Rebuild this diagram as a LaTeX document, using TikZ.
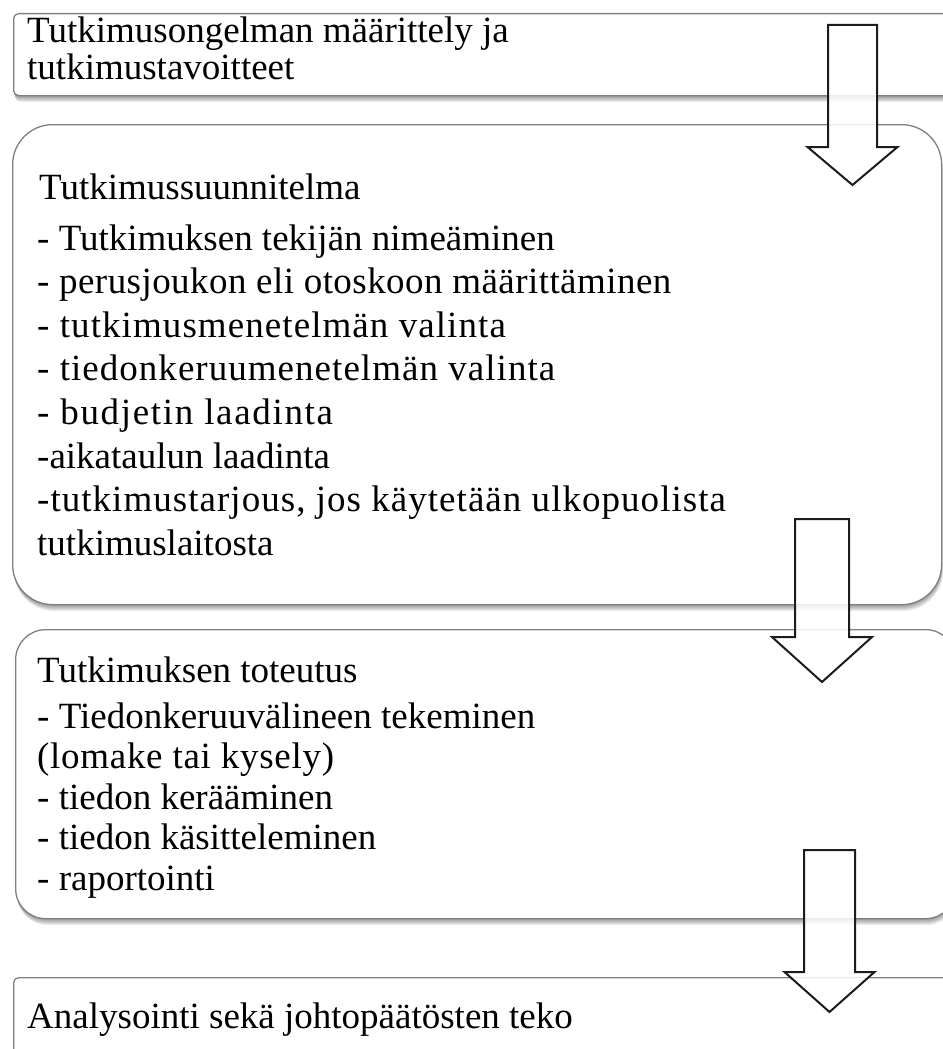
\documentclass[tikz,border=0pt]{standalone}
\usepackage{fontspec}
\setmainfont{Liberation Serif}
\definecolor{boxgray}{RGB}{128,128,128}
\definecolor{arrowblack}{RGB}{28,28,28}
\begin{document}
\begin{tikzpicture}[x=1pt,y=-1pt,
  boxline/.style={draw=boxgray, line width=1.3pt, fill=white, inner sep=0pt, anchor=north west},
  txt/.style={anchor=base west, inner sep=0pt, font=\fontsize{37}{43}\selectfont},
  spaced/.style={txt, font=\fontsize{37}{43}\selectfont\addfontfeature{LetterSpace=#1}},
  blockarrow/.style={draw=arrowblack, line width=2pt, fill=white, fill opacity=0.85, line join=miter}]
\useasboundingbox (0,0) rectangle (942,1049);

% soft shadow under a rounded box: x, y, w, h, radius
\newcommand\softshadow[5]{%
  \foreach \k in {1,...,7}
    \fill[black, opacity=0.07, rounded corners=#5]
      ({#1+0.3*\k},{#2+\k}) rectangle ++(#3,#4);}

% boxes
\softshadow{13}{13}{947}{82}{5pt}
\node[boxline, rounded corners=5pt, minimum width=947pt, minimum height=82pt] (b1) at (13,13) {};
\softshadow{12}{124}{929}{480}{40pt}
\node[boxline, rounded corners=40pt, minimum width=929pt, minimum height=480pt] (b2) at (12,124) {};
\softshadow{15}{629}{940}{289}{30pt}
\node[boxline, rounded corners=30pt, minimum width=940pt, minimum height=289pt] (b3) at (15,629) {};
\node[boxline, rounded corners=5pt, minimum width=947pt, minimum height=100pt] (b4) at (13,977) {};

% texts
\node[txt] (t1a) at (27,43) {Tutkimusongelman määrittely ja};
\node[txt] (t1b) at (27,80) {tutkimustavoitteet};

\node[txt] (t2h) at (39,199) {Tutkimussuunnitelma};
\node[txt] (t2a) at (37,250) {- Tutkimuksen tekijän nimeäminen};
\node[spaced=1.2] (t2b) at (37,293.6) {- perusjoukon eli otoskoon määrittäminen};
\node[spaced=2.9] (t2c) at (37,337.2) {- tutkimusmenetelmän valinta};
\node[spaced=2.8] (t2d) at (37,380.8) {- tiedonkeruumenetelmän valinta};
\node[spaced=4.5] (t2e) at (37,424.4) {- budjetin laadinta};
\node[txt] (t2f) at (37,468) {-aikataulun laadinta};
\node[spaced=2.8] (t2g) at (37,511.6) {-tutkimustarjous, jos käytetään ulkopuolista};
\node[txt] (t2i) at (37,555.2) {tutkimuslaitosta};

\node[txt] (t3h) at (37,682) {Tutkimuksen toteutus};
\node[txt] (t3a) at (37,728) {- Tiedonkeruuvälineen tekeminen};
\node[spaced=1.9] (t3b) at (37,768.5) {(lomake tai kysely)};
\node[txt] (t3c) at (37,809) {- tiedon kerääminen};
\node[txt] (t3d) at (37,849.5) {- tiedon käsitteleminen};
\node[txt] (t3e) at (37,890) {- raportointi};

\node[txt] (t4) at (27,1028) {Analysointi sekä johtopäätösten teko};

% hollow block arrows: centre x, top, head start, tip, shaft half width, head half width
\newcommand\blockdown[6]{%
  \draw[blockarrow] ({#1-#5},#2) -- ({#1+#5},#2) -- ({#1+#5},#3) -- ({#1+#6},#3)
    -- (#1,#4) -- ({#1-#6},#3) -- ({#1-#5},#3) -- cycle;}
\blockdown{852.5}{25}{147}{185}{24.5}{45}
\blockdown{822}{519}{637}{682}{27}{50}
\blockdown{829.5}{850}{972}{1012}{25.5}{45}
\end{tikzpicture}
\end{document}
